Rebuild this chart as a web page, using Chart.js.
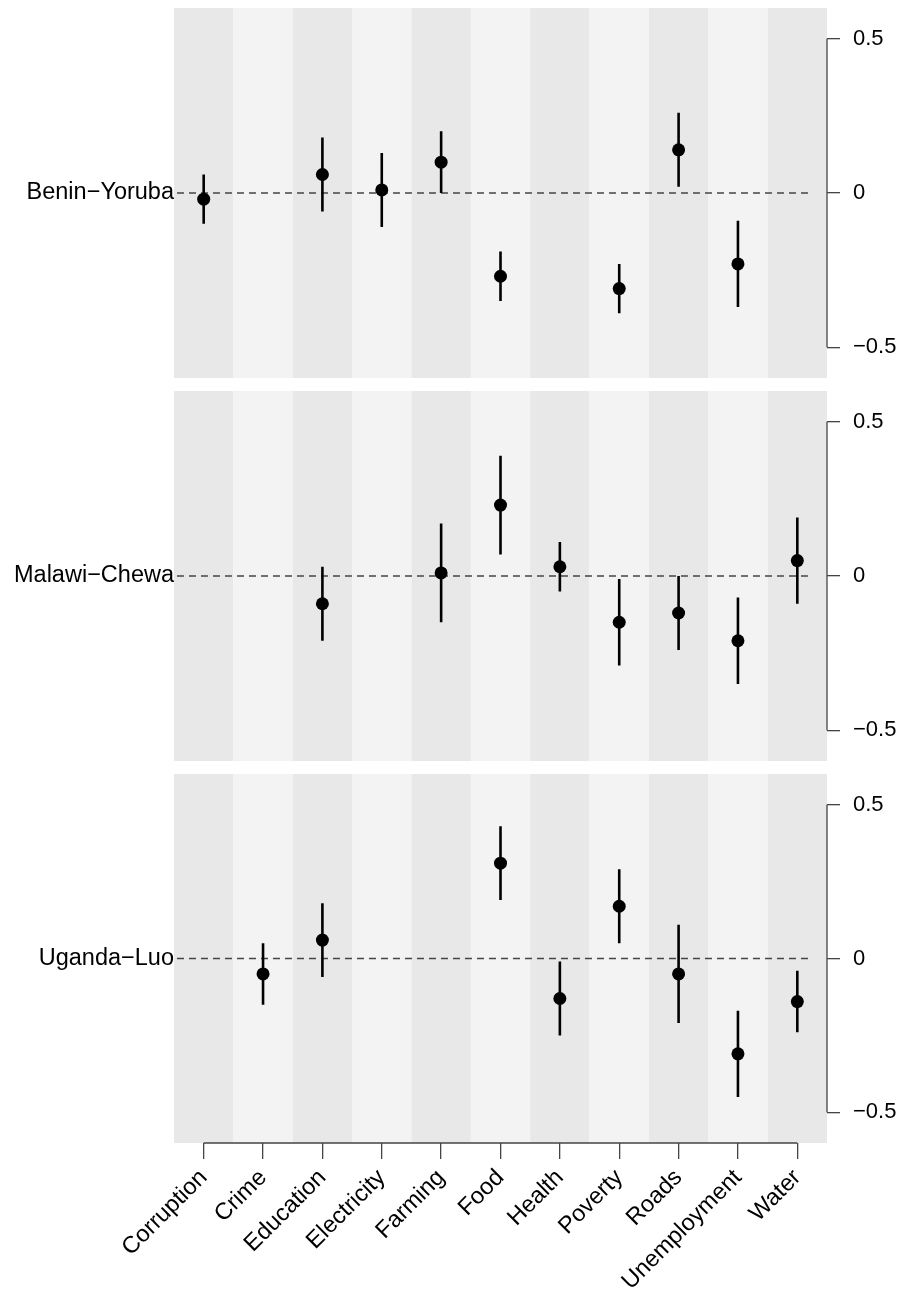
<!DOCTYPE html>
<html>
<head>
<meta charset="utf-8">
<script src="https://cdn.jsdelivr.net/npm/chart.js@4.4.1/dist/chart.umd.min.js"></script>
<style>
  html, body { margin: 0; padding: 0; background: #fff; }
  #wrap { position: relative; width: 897px; height: 1292px; }
  #wrap canvas { position: absolute; left: 0; top: 0; }
</style>
</head>
<body>
<div id="wrap">
  <canvas id="panel1" width="897" height="1292"></canvas>
  <canvas id="panel2" width="897" height="1292"></canvas>
  <canvas id="panel3" width="897" height="1292"></canvas>
</div>
<script>
const categories = ["Corruption", "Crime", "Education", "Electricity", "Farming", "Food",
  "Health", "Poverty", "Roads", "Unemployment", "Water"];
const yTicks = [-0.5, 0, 0.5];

// Benin-Yoruba
const beninEst = [-0.02, null, 0.06, 0.01, 0.10, -0.27, null, -0.31, 0.14, -0.23, null];
const beninLo  = [-0.10, null, -0.06, -0.11, 0.00, -0.35, null, -0.39, 0.02, -0.37, null];
const beninHi  = [0.06, null, 0.18, 0.13, 0.20, -0.19, null, -0.23, 0.26, -0.09, null];

// Malawi-Chewa
const malawiEst = [null, null, -0.09, null, 0.01, 0.23, 0.03, -0.15, -0.12, -0.21, 0.05];
const malawiLo  = [null, null, -0.21, null, -0.15, 0.07, -0.05, -0.29, -0.24, -0.35, -0.09];
const malawiHi  = [null, null, 0.03, null, 0.17, 0.39, 0.11, -0.01, 0.00, -0.07, 0.19];

// Uganda-Luo
const ugandaEst = [null, -0.05, 0.06, null, null, 0.31, -0.13, 0.17, -0.05, -0.31, -0.14];
const ugandaLo  = [null, -0.15, -0.06, null, null, 0.19, -0.25, 0.05, -0.21, -0.45, -0.24];
const ugandaHi  = [null, 0.05, 0.18, null, null, 0.43, -0.01, 0.29, 0.11, -0.17, -0.04];

Chart.defaults.font.family = "'Liberation Sans', Arial, sans-serif";
Chart.defaults.font.size = 22;
Chart.defaults.color = "#000";

const axisColor = "#444";
const canvasHeight = 1292;

// alternating column shading behind each panel
const columnShading = {
  id: "columnShading",
  beforeDraw(chart) {
    const { ctx, chartArea, scales } = chart;
    ctx.save();
    categories.forEach((c, i) => {
      const x0 = scales.x.getPixelForValue(i + 0.5);
      const x1 = scales.x.getPixelForValue(i + 1.5);
      ctx.fillStyle = i % 2 === 0 ? "#e8e8e8" : "#f3f3f3";
      ctx.fillRect(x0, chartArea.top, x1 - x0, chartArea.bottom - chartArea.top);
    });
    ctx.restore();
  },
};

// R style axis lines that only run between the outer ticks
const axisLines = {
  id: "axisLines",
  afterDraw(chart) {
    const { ctx, chartArea, scales } = chart;
    ctx.save();
    ctx.strokeStyle = axisColor;
    ctx.lineWidth = 1.3;
    ctx.beginPath();
    ctx.moveTo(chartArea.right, scales.y.getPixelForValue(0.5));
    ctx.lineTo(chartArea.right, scales.y.getPixelForValue(-0.5));
    if (scales.x.options.display) {
      ctx.moveTo(scales.x.getPixelForValue(1), chartArea.bottom);
      ctx.lineTo(scales.x.getPixelForValue(categories.length), chartArea.bottom);
    }
    ctx.stroke();
    ctx.restore();
  },
};

function minusSign(v) {
  if (v === 0) return "0";
  return v < 0 ? "\u2212" + Math.abs(v) : String(v);
}

// fixed axis size, no extra room for overhanging labels
function fixSize(w, h) {
  return (s) => {
    if (w !== null) s.width = w;
    if (h !== null) s.height = h;
    s.paddingTop = 0;
    s.paddingBottom = 0;
    s.paddingLeft = 0;
    s.paddingRight = 0;
  };
}

function makePanel(id, name, est, lo, hi, top, bottom, showX) {
  const points = [];
  const bars = [];
  est.forEach((v, i) => {
    if (v === null) return;
    points.push({ x: i + 1, y: v });
    bars.push({ x: i + 1, y: lo[i] }, { x: i + 1, y: hi[i] }, { x: i + 1, y: null });
  });

  return new Chart(document.getElementById(id), {
    type: "line",
    data: {
      datasets: [
        {
          type: "scatter",
          data: points,
          backgroundColor: "#000",
          borderWidth: 0,
          pointRadius: 6.5,
          order: 0,
        },
        {
          data: bars,
          borderColor: "#000",
          borderWidth: 2.6,
          pointRadius: 0,
          spanGaps: false,
          order: 1,
        },
        {
          data: [{ x: 0.55, y: 0 }, { x: 11.25, y: 0 }],
          borderColor: axisColor,
          borderWidth: 1.5,
          borderDash: [7, 5],
          pointRadius: 0,
          order: 2,
        },
      ],
    },
    options: {
      responsive: false,
      animation: false,
      events: [],
      layout: { padding: { top: top, bottom: showX ? 0 : canvasHeight - bottom, left: 0, right: 0 } },
      plugins: { legend: { display: false }, tooltip: { enabled: false } },
      scales: {
        x: {
          type: "linear",
          min: 0.5,
          max: 11.5,
          display: showX,
          afterFit: fixSize(null, showX ? canvasHeight - bottom : 0),
          afterBuildTicks: (s) => { s.ticks = categories.map((c, i) => ({ value: i + 1 })); },
          ticks: {
            autoSkip: false,
            minRotation: 45,
            maxRotation: 45,
            padding: 5,
            font: { size: 23.5 },
            callback: (v) => categories[v - 1],
          },
          grid: { drawOnChartArea: false, drawTicks: true, tickLength: 16, color: axisColor, lineWidth: 1.3 },
          border: { display: false },
        },
        y: {
          position: "right",
          min: -0.6,
          max: 0.6,
          afterFit: fixSize(70, null),
          afterBuildTicks: (s) => { s.ticks = yTicks.map((v) => ({ value: v })); },
          ticks: { padding: 13, callback: (v) => minusSign(v) },
          grid: { drawOnChartArea: false, drawTicks: true, tickLength: 13, color: axisColor, lineWidth: 1.3 },
          border: { display: false },
        },
        yl: {
          position: "left",
          min: -0.6,
          max: 0.6,
          afterFit: fixSize(174, null),
          afterBuildTicks: (s) => { s.ticks = [{ value: 0 }]; },
          ticks: { padding: 0, font: { size: 23.5 }, callback: () => name },
          grid: { display: false, drawTicks: false },
          border: { display: false },
        },
      },
    },
    plugins: [columnShading, axisLines],
  });
}

makePanel("panel1", "Benin\u2212Yoruba", beninEst, beninLo, beninHi, 8, 378, false);
makePanel("panel2", "Malawi\u2212Chewa", malawiEst, malawiLo, malawiHi, 391, 761, false);
makePanel("panel3", "Uganda\u2212Luo", ugandaEst, ugandaLo, ugandaHi, 774, 1143, true);
</script>
</body>
</html>
